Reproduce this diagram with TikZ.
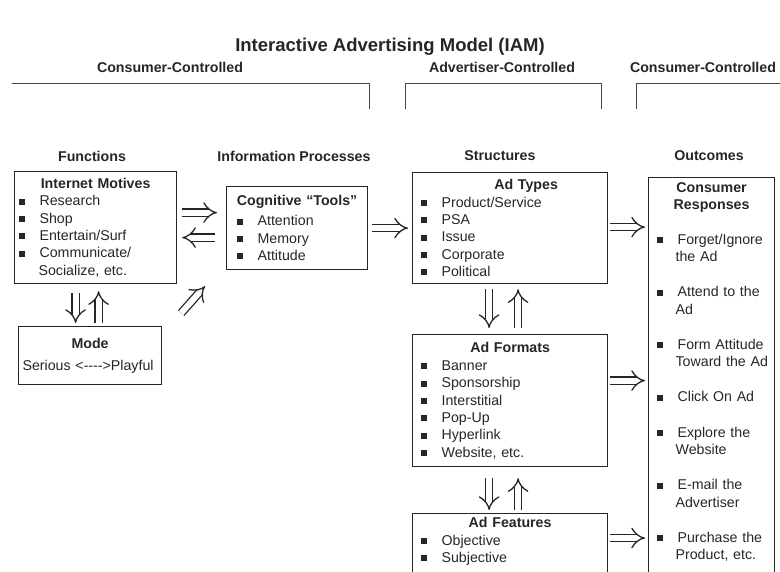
\documentclass[tikz,border=0pt]{standalone}
\usepackage{fontspec}
\setmainfont{Liberation Sans}[Ligatures=TeXOff]
\usetikzlibrary{arrows.meta,calc}
\definecolor{ink}{HTML}{262626}
\newcommand{\itm}[2][0pt]{\hspace*{#1}\makebox[21pt][l]{\rule[1.2pt]{6pt}{6pt}}#2}
\newcommand{\cnt}[2]{\makebox[#1][c]{\bfseries #2}}
\tikzset{
  hdr/.style={font=\fontsize{14.2}{16}\selectfont\bfseries, text=ink, inner sep=0pt},
  box/.style={draw=ink, line width=1.2pt, anchor=north west, align=left,
    inner xsep=4pt, inner ysep=4pt, text=ink, font=\fontsize{14.2}{17.3}\selectfont},
  dbl/.style={draw=ink, line width=1.3pt, double distance=6pt, -{Implies}},
  zone/.style={draw=ink!85, line width=0.8pt}
}
\begin{document}
\begin{tikzpicture}[x=1pt,y=-1pt]
\useasboundingbox (0,0) rectangle (780,571);
\node[hdr, font=\fontsize{18.5}{20}\selectfont\bfseries] (title) at (390,47) {Interactive Advertising Model (IAM)};
% who controls what
\foreach \n/\x/\t in {ccl/170/Consumer-Controlled, adv/502/Advertiser-Controlled, ccr/703/Consumer-Controlled}
  \node[hdr] (\n) at (\x,67) {\t};
\draw[zone] (12,83) -- (369,83) -- (369,109);
\draw[zone] (405,109) |- (601,83) -- (601,109);
\draw[zone] (636,109) |- (782,83);
% column heads
\foreach \n/\x/\t in {fun/92/Functions, inf/294/Information Processes, str/500/Structures, out/709/Outcomes}
  \node[hdr] (\n) at (\x,156) {\t};
% boxes
\node[box, text width=154pt, minimum height=112pt] (motives) at (14,171)
  {\cnt{154pt}{Internet Motives}\\ \itm{Research}\\ \itm{Shop}\\ \itm{Entertain/Surf}\\ \itm{Communicate/}\\ \hspace*{20pt}Socialize, etc.};
\node[box, text width=133pt, minimum height=83pt] (tools) at (226,186)
  {\cnt{133pt}{Cognitive “Tools”}\\[2.7pt] \itm[6pt]{Attention}\\ \itm[6pt]{Memory}\\ \itm[6pt]{Attitude}};
\node[box, text width=135pt, minimum height=58pt] (mode) at (18,326)
  {\cnt{135pt}{Mode}\\[4.7pt] Serious <\mbox{-}\mbox{-}\mbox{-}\mbox{-}>Playful};
\node[box, text width=187pt, minimum height=111pt] (types) at (412,172)
  {\cnt{187pt}{\hspace*{32pt}Ad Types}\\ \itm[4pt]{Product/Service}\\ \itm[4pt]{PSA}\\ \itm[4pt]{Issue}\\ \itm[4pt]{Corporate}\\ \itm[4pt]{Political}};
\node[box, text width=187pt, minimum height=132pt] (formats) at (412,334)
  {\cnt{187pt}{Ad Formats}\\[0.7pt] \itm[4pt]{Banner}\\ \itm[4pt]{Sponsorship}\\ \itm[4pt]{Interstitial}\\ \itm[4pt]{Pop-Up}\\ \itm[4pt]{Hyperlink}\\ \itm[4pt]{Website, etc.}};
\node[box, text width=187pt] (features) at (412,513)
  {\cnt{187pt}{Ad Features}\\ \itm[4pt]{Objective}\\ \itm[4pt]{Subjective}\\[10pt] \null};
\node[box, text width=118pt, inner ysep=5pt] (resp) at (648,177)
  {\cnt{118pt}{Consumer}\\ \cnt{118pt}{Responses}\\[17pt]
   \itm[4pt]{Forget/Ignore}\\ \hspace*{23pt}the Ad\\[18pt]
   \itm[4pt]{Attend to the}\\ \hspace*{23pt}Ad\\[18pt]
   \itm[4pt]{Form Attitude}\\ \hspace*{23pt}Toward the Ad\\[18pt]
   \itm[4pt]{Click On Ad}\\[18pt]
   \itm[4pt]{Explore the}\\ \hspace*{23pt}Website\\[18pt]
   \itm[4pt]{E-mail the}\\ \hspace*{23pt}Advertiser\\[18pt]
   \itm[4pt]{Purchase the}\\ \hspace*{23pt}Product, etc.\\[8pt] \null};
% functions and processes
\draw[dbl, shorten <=5pt, shorten >=9pt] ([yshift=15pt]motives.east) -- ([yshift=15pt]motives.east -| tools.west);
\draw[dbl, shorten <=11pt, shorten >=5pt] ([yshift=-10pt]motives.east -| tools.west) -- ([yshift=-10pt]motives.east);
\draw[dbl, shorten <=9pt, shorten >=3pt] ([xshift=-20pt]motives.south) -- ([xshift=-20pt]motives.south |- mode.north);
\draw[dbl, shorten <=3pt, shorten >=7pt] ([xshift=3pt]motives.south |- mode.north) -- ([xshift=3pt]motives.south);
\draw[dbl] ([xshift=19pt,yshift=13pt]mode.north east) -- ([xshift=-21pt,yshift=-16pt]tools.south west);
\draw[dbl, shorten <=4pt, shorten >=4pt] (tools.east) -- (tools.east -| types.west);
% structures
\draw[dbl, shorten <=5pt, shorten >=6pt] ([xshift=-21pt]types.south) -- ([xshift=-21pt]types.south |- formats.north);
\draw[dbl, shorten <=6pt, shorten >=5pt] ([xshift=8pt]types.south |- formats.north) -- ([xshift=8pt]types.south);
\draw[dbl, shorten <=11pt, shorten >=3pt] ([xshift=-21pt]formats.south) -- ([xshift=-21pt]formats.south |- features.north);
\draw[dbl, shorten <=3pt, shorten >=11pt] ([xshift=8pt]formats.south |- features.north) -- ([xshift=8pt]formats.south);
% outcomes
\draw[dbl, shorten <=2pt, shorten >=3pt] ([yshift=1pt]types.east) -- ([yshift=1pt]types.east -| resp.west);
\draw[dbl, shorten <=2pt, shorten >=3pt] ([yshift=20pt]formats.east) -- ([yshift=20pt]formats.east -| resp.west);
\draw[dbl, shorten <=2pt, shorten >=3pt] ([yshift=-25pt]features.north east) -- ([yshift=-25pt]features.north east -| resp.west);
\end{tikzpicture}
\end{document}
